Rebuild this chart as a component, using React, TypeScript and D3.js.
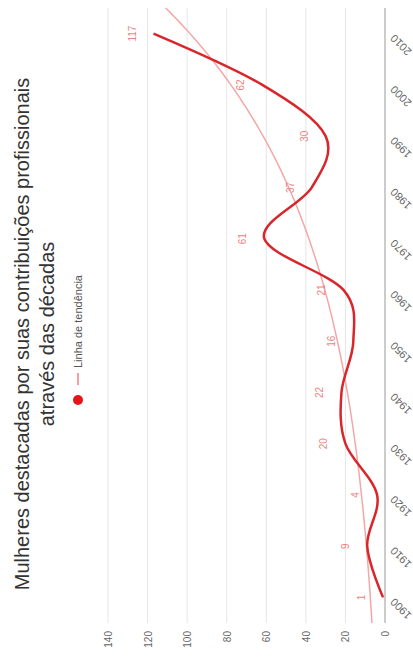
import React from 'react';
import * as d3 from 'd3';

const categories = ['1900', '1910', '1920', '1930', '1940', '1950', '1960', '1970', '1980', '1990', '2000', '2010'];
const values = [1, 9, 4, 20, 22, 16, 21, 61, 37, 30, 62, 117];
const yTicks = [0, 20, 40, 60, 80, 100, 120, 140];
// exponential trend: a * e^(k * index)
const trendA = 7.43;
const trendK = 0.235;
const titleLines = ['Mulheres destacadas por suas contribuições profissionais', 'através das décadas'];
const legendLabel = 'Linha de tendência';

const W = 668;

export default function App() {
  const x = d3.scalePoint<string>().domain(categories).range([45, 660]).padding(0.5);
  const y = d3.scaleLinear().domain([0, 140]).range([385, 108]);
  const step = x.step();
  const x0 = x(categories[0]) as number;
  const font = 'Liberation Sans, Arial, sans-serif';

  const line = d3
    .line<number>()
    .x((_, i) => x(categories[i]) as number)
    .y((d) => y(d))
    .curve(d3.curveCardinal.tension(0));

  const trendIdx = d3.range(-0.5, categories.length - 0.5 + 0.001, 0.05);
  const trendLine = d3
    .line<number>()
    .x((t) => x0 + t * step)
    .y((t) => y(trendA * Math.exp(trendK * t)));

  return (
    <svg
      width={413}
      height={668}
      style={{ position: 'absolute', left: 0, top: 0, background: '#fff' }}
    >
      <g transform={`translate(0,${W}) rotate(-90)`} fontFamily={font}>
        {titleLines.map((t, i) => (
          <text key={i} x={W / 2} y={29 + i * 25} textAnchor="middle" fontSize={20} fill="#333">
            {t}
          </text>
        ))}
        {/* legend */}
        <g>
          <circle cx={268} cy={78} r={5} fill="#e8141b" />
          <line x1={283} x2={295} y1={78} y2={78} stroke="#f4a0a0" strokeWidth={2} />
          <text x={300} y={82} fontSize={11} fill="#555">
            {legendLabel}
          </text>
        </g>
        {/* grid */}
        {yTicks.map((v) => (
          <g key={v}>
            <line x1={45} x2={660} y1={y(v)} y2={y(v)} stroke={v === 0 ? '#999' : '#e6e6e6'} strokeWidth={1} />
            <text x={37} y={y(v) + 4} textAnchor="end" fontSize={10} fill="#666">
              {v}
            </text>
          </g>
        ))}
        {categories.map((c) => (
          <text
            key={c}
            transform={`translate(${x(c)},${y(0) + 10}) rotate(-45)`}
            textAnchor="end"
            fontSize={11}
            fill="#666"
          >
            {c}
          </text>
        ))}
        <path d={trendLine(trendIdx) || ''} fill="none" stroke="#f4a7a7" strokeWidth={1.5} />
        <path d={line(values) || ''} fill="none" stroke="#d9262b" strokeWidth={2.5} />
        {values.map((v, i) => (
          <text
            key={i}
            x={x(categories[i])}
            y={y(v) - 18}
            textAnchor="middle"
            fontSize={10}
            fill="#f07f80"
          >
            {v}
          </text>
        ))}
      </g>
    </svg>
  );
}
